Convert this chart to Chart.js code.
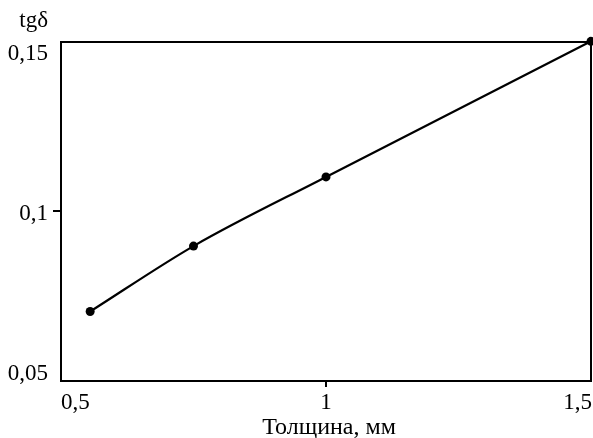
<!DOCTYPE html>
<html>
<head>
<meta charset="utf-8">
<script src="https://cdn.jsdelivr.net/npm/chart.js@4"></script>
<style>
  body { margin: 0; background: #fff; }
  canvas { display: block; }
</style>
</head>
<body>
<canvas id="chart1" width="593" height="438"></canvas>
<script>
/* data */
const thickness = [0.555, 0.75, 1.0, 1.5];
const tgDelta = [0.0705, 0.0898, 0.1102, 0.1502];

const xTicks = [0.5, 1, 1.5];
const xTickLabels = ['0,5', '1', '1,5'];
const yTicks = [0.05, 0.1, 0.15];
const yTickLabels = ['0,05', '0,1', '0,15'];

const xTitle = 'Толщина, мм';
const yTitle = 'tgδ';

const fontFamily = '"Liberation Serif", "Times New Roman", serif';
const tickFont = '23px ' + fontFamily;
const titleFont = '24px ' + fontFamily;

/* Box round the plot, tick stubs and labels (pulled inwards at the ends like in the picture) */
const framePlugin = {
  id: 'frame',
  afterDraw(chart) {
    const ctx = chart.ctx;
    const a = chart.chartArea;
    const xs = chart.scales.x;
    const ys = chart.scales.y;
    ctx.save();
    ctx.strokeStyle = '#000';
    ctx.lineWidth = 2;
    ctx.strokeRect(a.left, a.top, a.right - a.left, a.bottom - a.top);

    // inner tick stubs, the end ones sit on the box
    ctx.beginPath();
    xTicks.slice(1, -1).forEach(v => {
      const x = Math.round(xs.getPixelForValue(v));
      ctx.moveTo(x, a.bottom);
      ctx.lineTo(x, a.bottom + 6);
    });
    yTicks.slice(1, -1).forEach(v => {
      const y = Math.round(ys.getPixelForValue(v));
      ctx.moveTo(a.left, y);
      ctx.lineTo(a.left - 8, y);
    });
    ctx.stroke();

    ctx.fillStyle = '#000';
    ctx.font = tickFont;
    ctx.textBaseline = 'alphabetic';

    // y tick labels
    ctx.textAlign = 'right';
    yTicks.forEach((v, i) => {
      let y = ys.getPixelForValue(v) + 8;
      y = Math.min(Math.max(y, a.top + 18), a.bottom - 1);
      ctx.fillText(yTickLabels[i], a.left - 13, y);
    });

    // x tick labels
    xTicks.forEach((v, i) => {
      let x = xs.getPixelForValue(v);
      if (i === 0) { ctx.textAlign = 'left'; }
      else if (i === xTicks.length - 1) { ctx.textAlign = 'right'; x += 1; }
      else { ctx.textAlign = 'center'; }
      ctx.fillText(xTickLabels[i], x, a.bottom + 28);
    });

    // axis titles
    ctx.font = titleFont;
    ctx.textAlign = 'center';
    ctx.fillText(xTitle, (a.left + a.right) / 2 + 3, a.bottom + 53);
    ctx.font = tickFont;
    ctx.textAlign = 'right';
    ctx.fillText(yTitle, a.left - 13, 27);
    ctx.restore();
  }
};

const chart1 = document.getElementById('chart1');
const myChart1 = new Chart(chart1, {
  type: 'line',
  data: {
    datasets: [{
      label: 'tgδ',
      data: thickness.map((t, i) => ({ x: t, y: tgDelta[i] })),
      borderColor: '#000',
      backgroundColor: '#000',
      borderWidth: 2.2,
      pointRadius: 4.5,
      pointBackgroundColor: '#000',
      pointBorderWidth: 0,
      cubicInterpolationMode: 'monotone',
      clip: false
    }]
  },
  options: {
    responsive: false,
    animation: false,
    layout: {
      autoPadding: false,
      padding: { left: 0, right: 2, top: 42, bottom: 0 }
    },
    plugins: {
      legend: { display: false },
      tooltip: { enabled: false }
    },
    scales: {
      x: {
        type: 'linear',
        min: 0.5,
        max: 1.5,
        afterBuildTicks: (scale) => { scale.ticks = xTicks.map(v => ({ value: v })); },
        afterFit: (scale) => { scale.height = 57; },
        ticks: { display: false },
        grid: { display: false },
        border: { display: false }
      },
      y: {
        type: 'linear',
        min: 0.05,
        max: 0.15,
        afterBuildTicks: (scale) => { scale.ticks = yTicks.map(v => ({ value: v })); },
        afterFit: (scale) => { scale.width = 61; },
        ticks: { display: false },
        grid: { display: false },
        border: { display: false }
      }
    }
  },
  plugins: [framePlugin]
});
</script>
</body>
</html>
